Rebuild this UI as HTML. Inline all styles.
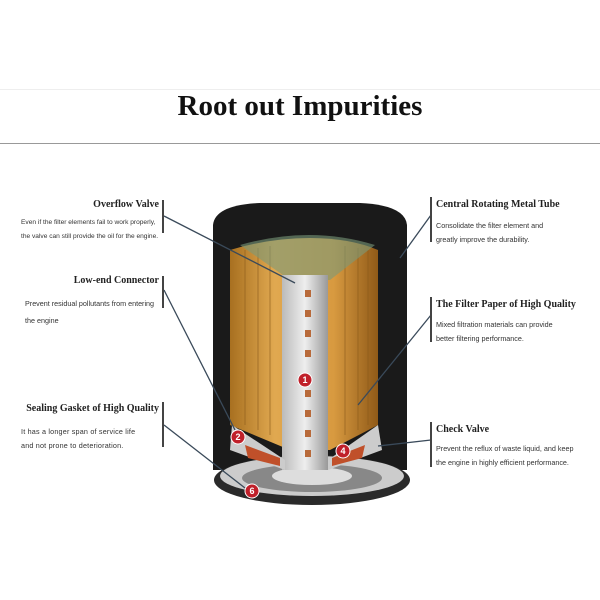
<!DOCTYPE html><html><head><style>
body{margin:0;width:600px;height:600px;background:#fff;position:relative;overflow:hidden;font-family:"Liberation Sans",sans-serif}
.t{position:absolute;font-family:"Liberation Serif",serif;font-weight:bold;font-size:10px;color:#222;white-space:nowrap}
.d{position:absolute;font-size:7.2px;color:#333;white-space:nowrap;line-height:14px}
.r{text-align:right}
.bar{position:absolute;width:2px;background:#444}
</style></head><body>
<div style="position:absolute;left:0;top:89px;width:600px;height:1px;background:#eee"></div>
<div style="position:absolute;left:0;top:90px;width:600px;text-align:center;font-family:'Liberation Serif',serif;font-weight:bold;font-size:29px;color:#111">Root out Impurities</div>
<div style="position:absolute;left:0;top:143px;width:600px;height:1px;background:#999"></div>
<svg width="600" height="600" style="position:absolute;left:0;top:0">
<defs><linearGradient id="y" x1="0" x2="1"><stop offset="0" stop-color="#a87020"/><stop offset=".3" stop-color="#e0a850"/><stop offset=".7" stop-color="#d89a40"/><stop offset="1" stop-color="#905a18"/></linearGradient>
<linearGradient id="s" x1="0" x2="1"><stop offset="0" stop-color="#bbb"/><stop offset=".5" stop-color="#eee"/><stop offset="1" stop-color="#999"/></linearGradient></defs>
<path d="M213 225 Q215 205 260 203 L360 203 Q405 205 407 225 L407 470 L213 470Z" fill="#1a1a1a"/>
<ellipse cx="312" cy="480" rx="98" ry="25" fill="#2a2a2a"/>
<ellipse cx="312" cy="476" rx="92" ry="20" fill="#ccc"/>
<ellipse cx="312" cy="478" rx="70" ry="14" fill="#888"/>
<ellipse cx="312" cy="476" rx="40" ry="9" fill="#ddd"/>
<path d="M230 250 Q270 238 310 238 Q350 238 378 250 L378 425 L330 450 L290 450 L230 425Z" fill="url(#y)"/>
<g stroke="#8a5a1a" stroke-width="1" opacity=".6"><line x1="245" y1="250" x2="245" y2="425"/><line x1="258" y1="248" x2="258" y2="430"/><line x1="270" y1="246" x2="270" y2="435"/><line x1="345" y1="246" x2="345" y2="435"/><line x1="358" y1="248" x2="358" y2="430"/><line x1="368" y1="250" x2="368" y2="425"/></g>
<path d="M240 245 Q310 225 375 245 L330 280 L290 280Z" fill="#7a9a7a" opacity=".6"/>
<rect x="282" y="275" width="46" height="195" fill="url(#s)"/>
<g fill="#b86a3a"><rect x="305" y="290" width="6" height="7"/><rect x="305" y="310" width="6" height="7"/><rect x="305" y="330" width="6" height="7"/><rect x="305" y="350" width="6" height="7"/><rect x="305" y="390" width="6" height="7"/><rect x="305" y="410" width="6" height="7"/><rect x="305" y="430" width="6" height="7"/><rect x="305" y="450" width="6" height="7"/></g>
<path d="M232 425 L285 460 L285 470 L230 450Z" fill="#ccc"/><path d="M378 425 L328 460 L328 470 L382 450Z" fill="#ccc"/>
<path d="M245 445 L280 458 L280 466 L248 458Z" fill="#c0502a"/><path d="M365 445 L332 458 L332 466 L362 458Z" fill="#c0502a"/>
<g fill="#c0202a" stroke="#fff" stroke-width="1"><circle cx="305" cy="380" r="7"/><circle cx="238" cy="437" r="7"/><circle cx="343" cy="451" r="7"/><circle cx="252" cy="491" r="7"/></g>
<g fill="#fff" font-size="9" font-weight="bold" text-anchor="middle" font-family="Liberation Sans"><text x="305" y="383">1</text><text x="238" y="440">2</text><text x="343" y="454">4</text><text x="252" y="494">6</text></g>
<g stroke="#3a4a5a" stroke-width="1.3"><line x1="164" y1="216" x2="295" y2="283"/><line x1="164" y1="290" x2="235" y2="430"/><line x1="164" y1="425" x2="245" y2="488"/><line x1="431" y1="215" x2="400" y2="258"/><line x1="431" y1="315" x2="358" y2="405"/><line x1="431" y1="440" x2="378" y2="446"/></g>
</svg>
<div class="t r" style="right:441px;top:199px">Overflow Valve</div>
<div class="bar" style="left:162px;top:200px;height:33px"></div>
<div class="d" style="left:21px;top:216px;font-size:6.6px">Even if the filter elements fail to work properly,<br>the valve can still provide the oil for the engine.</div>
<div class="t r" style="right:441px;top:275px">Low-end Connector</div>
<div class="bar" style="left:162px;top:276px;height:32px"></div>
<div class="d" style="left:25px;top:295px;line-height:17px">Prevent residual pollutants from entering<br>the engine</div>
<div class="t r" style="right:441px;top:403px">Sealing Gasket of High Quality</div>
<div class="bar" style="left:162px;top:402px;height:45px"></div>
<div class="d" style="left:21px;top:425px;letter-spacing:.2px">It has a longer span of service life<br>and not prone to deterioration.</div>
<div class="bar" style="left:430px;top:197px;height:45px"></div>
<div class="t" style="left:436px;top:199px">Central Rotating Metal Tube</div>
<div class="d" style="left:436px;top:219px">Consolidate the filter element and<br>greatly improve the durability.</div>
<div class="bar" style="left:430px;top:297px;height:45px"></div>
<div class="t" style="left:436px;top:299px">The Filter Paper of High Quality</div>
<div class="d" style="left:436px;top:318px">Mixed filtration materials can provide<br>better filtering performance.</div>
<div class="bar" style="left:430px;top:422px;height:45px"></div>
<div class="t" style="left:436px;top:424px">Check Valve</div>
<div class="d" style="left:436px;top:442px">Prevent the reflux of waste liquid, and keep<br>the engine in highly efficient performance.</div>
</body></html>
